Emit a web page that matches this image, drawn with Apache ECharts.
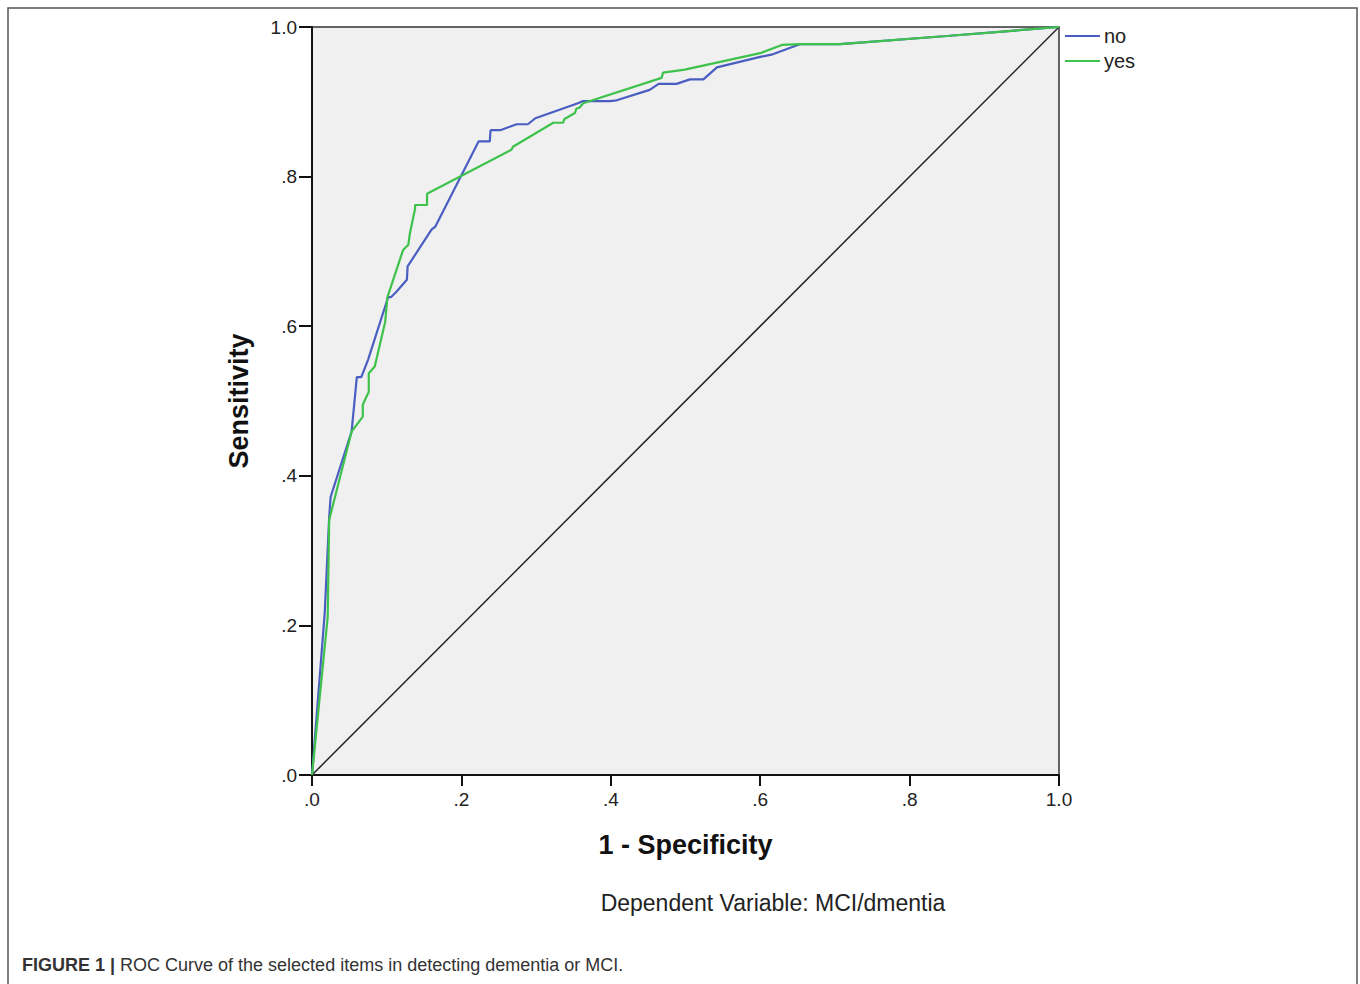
<!DOCTYPE html>
<html lang="en">
<head>
  <meta charset="UTF-8" />
  <title>ROC Curve</title>
  <script src="https://cdn.jsdelivr.net/npm/echarts@6/dist/echarts.min.js"></script>
  <style>
    body { margin: 0; padding: 0; background: #fff; }
    #chart { width: 1360px; height: 984px; }
  </style>
</head>
<body>
  <div id="chart"></div>

  <script>
    // ROC points: [1 - specificity, sensitivity]
    const noCurve = [
      [0, 0], [0.017, 0.216], [0.023, 0.345], [0.025, 0.372], [0.053, 0.459],
      [0.06, 0.532], [0.066, 0.532], [0.075, 0.555], [0.102, 0.639], [0.106, 0.639],
      [0.113, 0.646], [0.127, 0.662], [0.128, 0.68], [0.16, 0.729], [0.165, 0.733],
      [0.223, 0.847], [0.238, 0.847], [0.239, 0.862], [0.252, 0.862], [0.274, 0.87],
      [0.289, 0.87], [0.299, 0.878], [0.356, 0.898], [0.363, 0.901], [0.399, 0.901],
      [0.408, 0.902], [0.452, 0.916], [0.464, 0.924], [0.488, 0.924], [0.506, 0.93],
      [0.524, 0.93], [0.542, 0.946], [0.6, 0.96], [0.615, 0.963], [0.653, 0.977],
      [0.707, 0.977], [0.85, 0.988], [1, 1]
    ];
    const yesCurve = [
      [0, 0], [0.021, 0.211], [0.023, 0.341], [0.053, 0.459], [0.068, 0.479],
      [0.068, 0.495], [0.073, 0.506], [0.076, 0.512], [0.076, 0.537], [0.084, 0.546],
      [0.098, 0.606], [0.101, 0.639], [0.122, 0.702], [0.129, 0.709], [0.131, 0.724],
      [0.138, 0.757], [0.138, 0.762], [0.154, 0.762], [0.154, 0.777], [0.267, 0.836],
      [0.269, 0.84], [0.323, 0.872], [0.336, 0.872], [0.338, 0.877], [0.352, 0.885],
      [0.354, 0.891], [0.358, 0.892], [0.363, 0.898], [0.468, 0.932], [0.47, 0.939],
      [0.499, 0.943], [0.6, 0.965], [0.629, 0.976], [0.653, 0.977], [0.707, 0.977],
      [0.85, 0.988], [1, 1]
    ];
    const refLine = [[0, 0], [1, 1]];
    const seriesNames = ['no', 'yes'];
    const seriesColors = ['#4a5ec2', '#3ec24c'];

    const sans = "'Liberation Sans', Arial, sans-serif";
    const tickLabel = v => v.toFixed(1).replace(/^0/, '');

    const chart = echarts.init(document.getElementById('chart'), null, { renderer: 'svg' });

    chart.setOption({
      animation: false,
      grid: {
        left: 312, top: 27, width: 747, height: 748,
        show: true,
        backgroundColor: '#f0f0f0',
        borderColor: '#333',
        borderWidth: 1.5
      },
      legend: {
        data: seriesNames,
        orient: 'vertical',
        left: 1060, top: 21,
        icon: 'rect',
        itemWidth: 35, itemHeight: 2,
        itemGap: 5,
        textStyle: { fontFamily: sans, fontSize: 20, color: '#222', padding: [0, 0, 0, -1] }
      },
      xAxis: {
        type: 'value', min: 0, max: 1, interval: 0.2,
        name: '1 - Specificity',
        nameLocation: 'middle',
        nameGap: 56,
        nameTextStyle: { fontFamily: sans, fontSize: 27, fontWeight: 'bold', color: '#111' },
        axisLine: { lineStyle: { color: '#111', width: 2 } },
        axisTick: { length: 11, lineStyle: { color: '#111', width: 2 } },
        axisLabel: { formatter: tickLabel, fontFamily: sans, fontSize: 19, color: '#222', margin: 15 },
        splitLine: { show: false }
      },
      yAxis: {
        type: 'value', min: 0, max: 1, interval: 0.2,
        name: 'Sensitivity',
        nameLocation: 'middle',
        nameGap: 60,
        nameTextStyle: { fontFamily: sans, fontSize: 27, fontWeight: 'bold', color: '#111' },
        axisLine: { show: true, lineStyle: { color: '#111', width: 2 } },
        axisTick: { show: true, length: 13, lineStyle: { color: '#111', width: 2 } },
        axisLabel: { formatter: tickLabel, fontFamily: sans, fontSize: 19, color: '#222', margin: 15 },
        splitLine: { show: false }
      },
      graphic: [
        {
          type: 'rect', silent: true,
          shape: { x: 8, y: 8, width: 1349, height: 990 },
          style: { fill: 'none', stroke: '#555', lineWidth: 1.5 }
        },
        {
          type: 'text', x: 773, y: 903,
          style: {
            text: 'Dependent Variable: MCI/dmentia',
            font: '23px ' + sans, fill: '#222',
            align: 'center', verticalAlign: 'middle'
          }
        },
        {
          type: 'text', x: 22, y: 965,
          style: {
            text: '{b|FIGURE 1 |} ROC Curve of the selected items in detecting dementia or MCI.',
            font: '18px ' + sans, fill: '#333',
            verticalAlign: 'middle',
            rich: { b: { fontWeight: 'bold', fontSize: 18, fontFamily: sans, fill: '#333' } }
          }
        }
      ],
      series: [
        {
          name: 'no', type: 'line', data: noCurve,
          showSymbol: false, symbol: 'none',
          lineStyle: { color: seriesColors[0], width: 2.2 },
          itemStyle: { color: seriesColors[0] },
          z: 3
        },
        {
          name: 'yes', type: 'line', data: yesCurve,
          showSymbol: false, symbol: 'none',
          lineStyle: { color: seriesColors[1], width: 2.2 },
          itemStyle: { color: seriesColors[1] },
          z: 4
        },
        {
          name: 'reference', type: 'line', data: refLine,
          showSymbol: false, symbol: 'none',
          lineStyle: { color: '#222', width: 1.5 },
          z: 2
        }
      ]
    });
  </script>
</body>
</html>
